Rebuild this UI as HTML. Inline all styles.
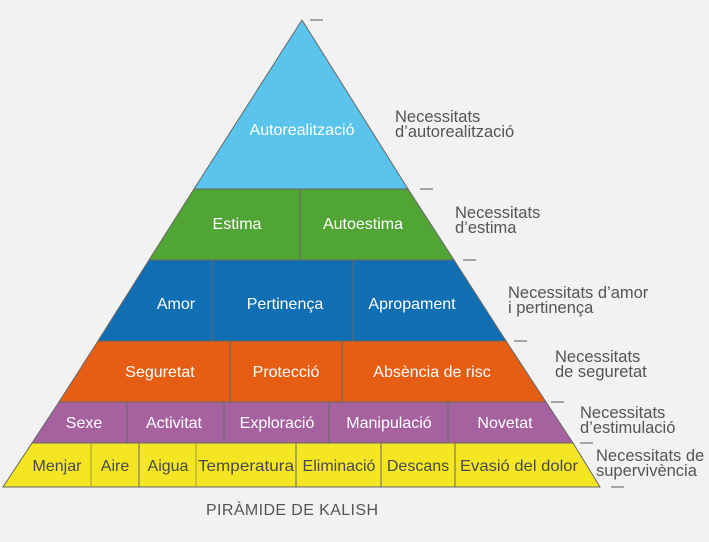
<!DOCTYPE html>
<html><head><meta charset="utf-8"><style>
body{margin:0;background:#f2f2f2}
svg{display:block;font-family:"Liberation Sans",sans-serif}
</style></head><body>
<svg width="709" height="542" viewBox="0 0 709 542">
<rect width="709" height="542" fill="#f2f2f2"/>
<g stroke="#666" stroke-width="1">
<polygon points="302,20 194,189 408,189" fill="#5bc4ed"/>
<polygon points="194,189 408,189 454,260 149,260" fill="#51a535"/>
<polygon points="149,260 454,260 506,341 98,341" fill="#106fb3"/>
<polygon points="98,341 506,341 546,402 59,402" fill="#e55e13"/>
<polygon points="59,402 546,402 573,443 32,443" fill="#a5629f"/>
<polygon points="32,443 573,443 600,487 3,487" fill="#f4e623"/>
<line x1="300" y1="189" x2="300" y2="260"/>
<line x1="212" y1="260" x2="212" y2="341"/><line x1="353" y1="260" x2="353" y2="341"/>
<line x1="230" y1="341" x2="230" y2="402"/><line x1="342" y1="341" x2="342" y2="402"/>
<line x1="127" y1="402" x2="127" y2="443"/><line x1="224" y1="402" x2="224" y2="443"/><line x1="329" y1="402" x2="329" y2="443"/><line x1="448" y1="402" x2="448" y2="443"/>
<line x1="91" y1="443" x2="91" y2="487" stroke="#aa9a3a"/><line x1="139" y1="443" x2="139" y2="487"/><line x1="196" y1="443" x2="196" y2="487" stroke="#aa9a3a"/><line x1="296" y1="443" x2="296" y2="487"/><line x1="381" y1="443" x2="381" y2="487"/><line x1="455" y1="443" x2="455" y2="487"/>
</g>
<g stroke="#555" stroke-width="1">
<line x1="310" y1="20" x2="323" y2="20"/><line x1="420" y1="189" x2="433" y2="189"/><line x1="463" y1="260" x2="476" y2="260"/><line x1="514" y1="341" x2="527" y2="341"/><line x1="551" y1="402" x2="564" y2="402"/><line x1="580" y1="443" x2="593" y2="443"/><line x1="611" y1="487" x2="624" y2="487"/>
</g>
<g fill="#fff" font-size="16" text-anchor="middle">
<text x="302" y="135">Autorealització</text>
<text x="237" y="229">Estima</text><text x="363" y="229">Autoestima</text>
<text x="176" y="309">Amor</text><text x="285" y="309">Pertinença</text><text x="412" y="309">Apropament</text>
<text x="160" y="377">Seguretat</text><text x="286" y="377">Protecció</text><text x="432" y="377">Absència de risc</text>
<text x="84" y="428">Sexe</text><text x="174" y="428">Activitat</text><text x="277" y="428">Exploració</text><text x="389" y="428">Manipulació</text><text x="505" y="428">Novetat</text>
</g>
<g fill="#4a4a4a" font-size="16" text-anchor="middle">
<text x="57" y="471">Menjar</text><text x="115" y="471">Aire</text><text x="168" y="471">Aigua</text><text x="246" y="471" textLength="96" lengthAdjust="spacingAndGlyphs">Temperatura</text><text x="339" y="471">Eliminació</text><text x="418" y="471">Descans</text><text x="519" y="471" textLength="118" lengthAdjust="spacingAndGlyphs">Evasió del dolor</text>
</g>
<g fill="#555" font-size="16.5">
<text x="395" y="122">Necessitats</text><text x="395" y="137">d’autorealització</text>
<text x="455" y="218">Necessitats</text><text x="455" y="233">d’estima</text>
<text x="508" y="298">Necessitats d’amor</text><text x="508" y="313">i pertinença</text>
<text x="555" y="362">Necessitats</text><text x="555" y="377">de seguretat</text>
<text x="580" y="418">Necessitats</text><text x="580" y="433">d’estimulació</text>
<text x="596" y="461">Necessitats de</text><text x="596" y="476">supervivència</text>
<text x="292" y="515" text-anchor="middle" font-size="16" textLength="172" lengthAdjust="spacing">PIRÀMIDE DE KALISH</text>
</g>
</svg>
</body></html>
